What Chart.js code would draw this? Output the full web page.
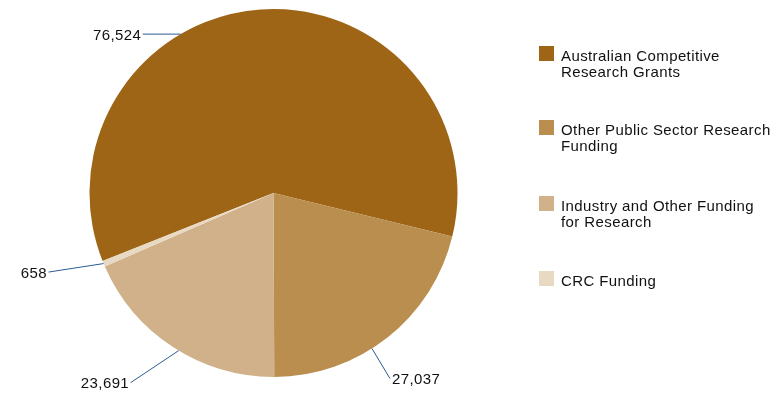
<!DOCTYPE html>
<html>
<head>
<meta charset="utf-8">
<script src="https://cdn.jsdelivr.net/npm/chart.js@4.4.1/dist/chart.umd.min.js"></script>
<style>
  html, body { margin: 0; padding: 0; background: #ffffff; }
  #wrap { position: relative; width: 776px; height: 394px; overflow: hidden; }
  #c { position: absolute; left: 0; top: 0; }
  .lg-item { position: absolute; left: 539px; }
  .lg-box { position: absolute; left: 0; top: 0; width: 15px; height: 15px; }
  .lg-text { position: absolute; left: 22px; top: 2px; white-space: nowrap;
    font-family: "Liberation Sans", Arial, Helvetica, sans-serif; font-size: 15px;
    letter-spacing: 0.4px; line-height: 16px; color: #111111; }
</style>
</head>
<body>
<div id="wrap">
  <canvas id="c" width="776" height="394"></canvas>
  <div id="legend"></div>
</div>
<script>
// ---- data ----
const categories = [
  'Australian Competitive Research Grants',
  'Other Public Sector Research Funding',
  'Industry and Other Funding for Research',
  'CRC Funding'
];
const legendLines = [
  ['Australian Competitive', 'Research Grants'],
  ['Other Public Sector Research', 'Funding'],
  ['Industry and Other Funding', 'for Research'],
  ['CRC Funding']
];
const values = [76524, 27037, 23691, 658];

// ---- styles / layout (not data) ----
const colors = ['#9e6516', '#b98e4f', '#d0b18a', '#e8d9c3'];
const legendTops = [46, 120, 196, 271];
// leader-line placement: fraction along slice arc, offset of line end, text alignment
const labelPlace = [
  { frac: 0.378, dx: -38, dy: 0,   align: 'right' },
  { frac: 0.578, dx: 18,  dy: 30,  align: 'left'  },
  { frac: 0.469, dx: -48, dy: 32,  align: 'right' },
  { frac: 0.54,  dx: -55, dy: 8.5, align: 'right' }
];

function fmt(v) { return String(v).replace(/\B(?=(\d{3})+(?!\d))/g, ','); }

const leaderPlugin = {
  id: 'leaders',
  afterDatasetsDraw(chart) {
    const ctx = chart.ctx;
    const meta = chart.getDatasetMeta(0);
    ctx.save();
    meta.data.forEach((arc, i) => {
      const p = arc.getProps(['x', 'y', 'startAngle', 'endAngle', 'outerRadius'], true);
      const L = labelPlace[i];
      const a = p.startAngle + L.frac * (p.endAngle - p.startAngle);
      const ax = p.x + Math.cos(a) * p.outerRadius;
      const ay = p.y + Math.sin(a) * p.outerRadius;
      const ex = ax + L.dx, ey = ay + L.dy;
      ctx.strokeStyle = '#2b5b94';
      ctx.lineWidth = 1;
      ctx.beginPath();
      ctx.moveTo(ax, ay);
      ctx.lineTo(ex, ey);
      ctx.stroke();
      ctx.fillStyle = '#111111';
      ctx.font = '15px "Liberation Sans", Arial, sans-serif';
      if ('letterSpacing' in ctx) ctx.letterSpacing = '0.4px';
      ctx.textBaseline = 'middle';
      ctx.textAlign = L.align;
      const tx = L.align === 'right' ? ex - 1.5 : ex + 2;
      ctx.fillText(fmt(values[i]), tx, ey + 1.5);
    });
    ctx.restore();
  }
};

new Chart(document.getElementById('c'), {
  type: 'pie',
  data: {
    labels: categories,
    datasets: [{
      data: values,
      backgroundColor: colors,
      borderWidth: 0,
      hoverOffset: 0
    }]
  },
  options: {
    responsive: false,
    devicePixelRatio: 1,
    animation: false,
    rotation: 248.3,
    layout: { padding: { left: 89, right: 318, top: 9, bottom: 17 } },
    plugins: {
      legend: { display: false },
      tooltip: { enabled: false }
    }
  },
  plugins: [leaderPlugin]
});

// HTML legend
const lg = document.getElementById('legend');
categories.forEach((c, i) => {
  const item = document.createElement('div');
  item.className = 'lg-item';
  item.style.top = legendTops[i] + 'px';
  const box = document.createElement('div');
  box.className = 'lg-box';
  box.style.background = colors[i];
  const txt = document.createElement('div');
  txt.className = 'lg-text';
  txt.innerHTML = legendLines[i].join('<br>');
  item.appendChild(box);
  item.appendChild(txt);
  lg.appendChild(item);
});
</script>
</body>
</html>
